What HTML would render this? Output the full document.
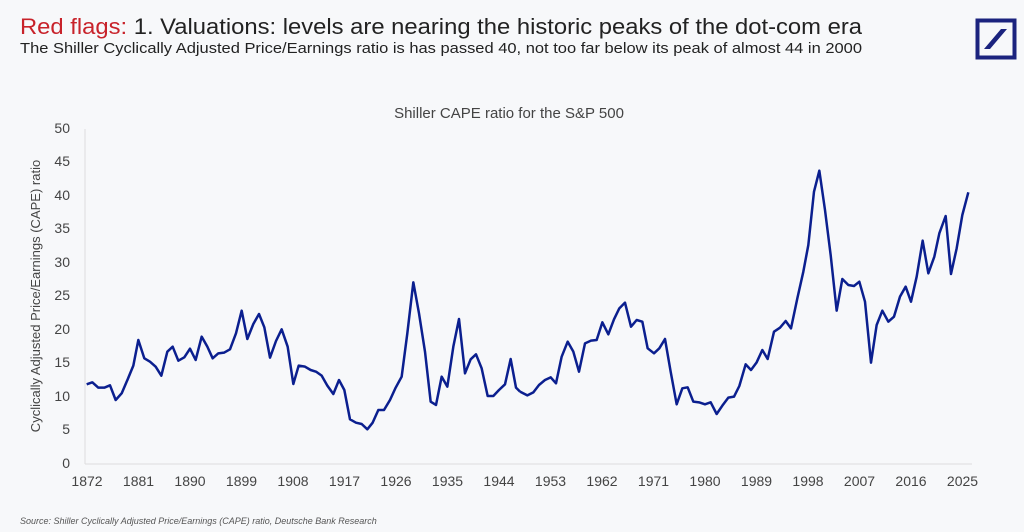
<!DOCTYPE html>
<html><head><meta charset="utf-8"><style>
html,body{margin:0;padding:0;background:#f7f8fa;}
svg{display:block;font-family:"Liberation Sans",sans-serif;}
</style></head><body>
<svg width="1024" height="532" viewBox="0 0 1024 532" xmlns="http://www.w3.org/2000/svg">
<rect width="1024" height="532" fill="#f7f8fa"/>
<text x="20" y="34" font-size="22" fill="#222" textLength="842" lengthAdjust="spacingAndGlyphs"><tspan fill="#c8222a">Red flags:</tspan> 1. Valuations: levels are nearing the historic peaks of the dot-com era</text>
<text x="20" y="53" font-size="15" fill="#222" textLength="842" lengthAdjust="spacingAndGlyphs">The Shiller Cyclically Adjusted Price/Earnings ratio is has passed 40, not too far below its peak of almost 44 in 2000</text>
<rect x="977.5" y="20.5" width="37" height="37" fill="none" stroke="#1b237e" stroke-width="4"/>
<polygon points="984,49 990,49 1007,29 1001,29" fill="#1b237e"/>
<text x="509" y="118" font-size="15" fill="#444" text-anchor="middle">Shiller CAPE ratio for the S&amp;P 500</text>
<g font-size="14" fill="#444" text-anchor="end">
<text x="70" y="133">50</text><text x="70" y="166">45</text><text x="70" y="200">40</text><text x="70" y="233">35</text><text x="70" y="267">30</text><text x="70" y="300">25</text><text x="70" y="334">20</text><text x="70" y="367">15</text><text x="70" y="401">10</text><text x="70" y="434">5</text><text x="70" y="468">0</text>
</g>
<g font-size="14" fill="#444" text-anchor="middle">
<text x="87" y="486">1872</text><text x="138.5" y="486">1881</text><text x="190" y="486">1890</text><text x="241.5" y="486">1899</text><text x="293" y="486">1908</text><text x="344.5" y="486">1917</text><text x="396" y="486">1926</text><text x="447.5" y="486">1935</text><text x="499" y="486">1944</text><text x="550.5" y="486">1953</text><text x="602" y="486">1962</text><text x="653.5" y="486">1971</text><text x="705" y="486">1980</text><text x="756.5" y="486">1989</text><text x="808" y="486">1998</text><text x="859.5" y="486">2007</text><text x="911" y="486">2016</text><text x="962.5" y="486">2025</text>
</g>
<text transform="translate(40,296) rotate(-90)" font-size="13" fill="#444" text-anchor="middle">Cyclically Adjusted Price/Earnings (CAPE) ratio</text>
<line x1="85" y1="129" x2="85" y2="464" stroke="#ddd" stroke-width="1"/>
<line x1="85" y1="464" x2="972" y2="464" stroke="#ddd" stroke-width="1"/>
<g fill="none" stroke="#0b1f8f" stroke-width="7.5" stroke-linejoin="round">
<polyline transform="translate(60,120) scale(0.33333)" points="80,793 97,787 115,803 133,803 150,796 167,840 185,820 203,778 220,737 235,660 253,715 270,725 287,740 304,767 322,695 338,680 355,722 373,712 390,686 407,720 425,650 442,680 458,715 475,700 492,698 510,688 528,640 545,572 562,657 580,612 597,582 613,622 630,713 648,663 665,628 683,680 700,792 716,737 735,740 752,750 768,755 785,767 802,797 820,822 837,780 853,810 870,898 888,908 905,912 922,928 938,908 955,870 972,870 990,840 1007,803 1025,770 1042,640 1060,487 1077,580 1095,695 1112,845 1128,855 1145,770 1162,800 1180,680 1197,597 1215,760 1232,718 1248,703 1265,745 1283,828 1300,828 1317,810 1335,793 1352,717 1368,803 1380,815"/>
<polyline transform="translate(520,120) scale(0.33333)" points="0,815 22,826 40,817 57,795 75,780 92,772 108,790 125,710 143,665 160,695 177,755 195,670 213,662 230,660 247,607 265,643 282,598 298,565 315,548 333,620 350,600 367,605 383,685 402,700 418,685 435,657 452,755 470,853 487,805 503,802 520,845 537,847 555,853 572,847 590,882 607,857 625,833 642,830 658,798 677,733 693,750 710,727 727,690 743,717 762,635 780,623 797,603 813,625 832,535 850,455 865,375 882,215 898,152 915,270 932,405 950,572 967,477 985,495 1002,498 1018,485 1035,545 1053,728 1070,615 1087,572 1105,605 1122,590 1140,530 1157,500 1173,545 1190,470 1208,362 1225,460 1243,410 1258,340 1277,288 1293,462 1310,385 1327,285 1345,217"/>
</g>
<text x="20" y="524" font-size="9" font-style="italic" fill="#555">Source: Shiller Cyclically Adjusted Price/Earnings (CAPE) ratio, Deutsche Bank Research</text>
</svg>
</body></html>
